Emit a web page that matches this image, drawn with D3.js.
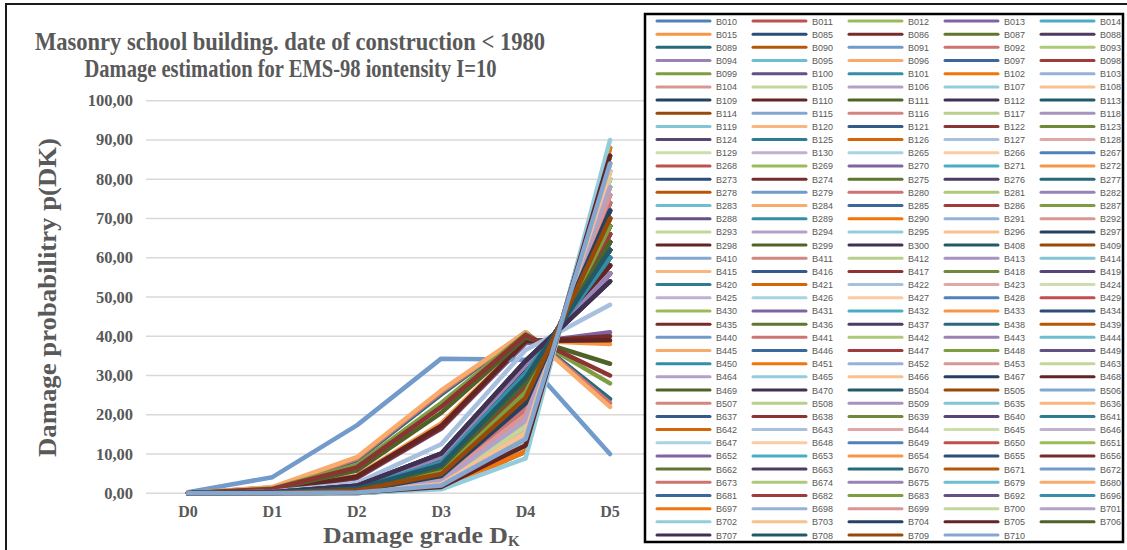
<!DOCTYPE html>
<html><head><meta charset="utf-8">
<script src="https://cdn.jsdelivr.net/npm/d3@7"></script>
<style>html,body{margin:0;padding:0;background:#fff}</style>
</head><body><svg id="c" width="1127" height="550"></svg>
<script>
const grades = ["D0","D1","D2","D3","D4","D5"];
const yTicks = [0,10,20,30,40,50,60,70,80,90,100];
const titleLines = ["Masonry school building. date of construction < 1980","Damage estimation for EMS-98 iontensity I=10"];
const buildings = [
"B010","B011","B012","B013","B014","B015","B085","B086","B087","B088",
"B089","B090","B091","B092","B093","B094","B095","B096","B097","B098",
"B099","B100","B101","B102","B103","B104","B105","B106","B107","B108",
"B109","B110","B111","B112","B113","B114","B115","B116","B117","B118",
"B119","B120","B121","B122","B123","B124","B125","B126","B127","B128",
"B129","B130","B265","B266","B267","B268","B269","B270","B271","B272",
"B273","B274","B275","B276","B277","B278","B279","B280","B281","B282",
"B283","B284","B285","B286","B287","B288","B289","B290","B291","B292",
"B293","B294","B295","B296","B297","B298","B299","B300","B408","B409",
"B410","B411","B412","B413","B414","B415","B416","B417","B418","B419",
"B420","B421","B422","B423","B424","B425","B426","B427","B428","B429",
"B430","B431","B432","B433","B434","B435","B436","B437","B438","B439",
"B440","B441","B442","B443","B444","B445","B446","B447","B448","B449",
"B450","B451","B452","B453","B463","B464","B465","B466","B467","B468",
"B469","B470","B504","B505","B506","B507","B508","B509","B635","B636",
"B637","B638","B639","B640","B641","B642","B643","B644","B645","B646",
"B647","B648","B649","B650","B651","B652","B653","B654","B655","B656",
"B662","B663","B670","B671","B672","B673","B674","B675","B679","B680",
"B681","B682","B683","B692","B696","B697","B698","B699","B700","B701",
"B702","B703","B704","B705","B706","B707","B708","B709","B710"];
// damage probabilities p(DK) per building: D0..D5
const damage = [
[0,0.1,0.6,4.4,22.9,72],[0,0.1,0.9,6.0,27.0,66],[0,0.3,1.9,10.1,33.7,54],[0,0.6,3.8,16.4,38.2,41],[0,0,0.3,2.7,17.0,80],
[0,0.8,4.5,17.8,38.9,38],[0,0.1,0.7,4.9,24.3,70],[0,0.7,4.0,16.6,38.7,40],[0,0.2,1.5,8.6,31.7,58],[0,0.2,1.0,6.6,28.2,64],
[0,1.4,8.4,25.2,41.0,24],[0,0.1,0.8,5.4,25.7,68],[0.3,4.1,17.3,34.3,34.0,10],[0,1.5,8.8,25.7,41.0,23],[0,0,0.4,3.1,18.5,78],
[0,0.1,0.5,3.9,21.5,74],[0,0,0.3,2.3,15.4,82],[0,1.6,9.2,26.2,41.0,22],[0,0.2,1.2,7.2,29.4,62],[0,0.2,1.5,8.6,31.7,58],
[0,1.2,7.2,23.0,40.6,28],[0,0.2,1.3,7.9,30.6,60],[0,0.1,0.4,3.5,20.0,76],[0,0,0.2,1.6,12.2,86],[0,0.3,1.7,9.3,32.7,56],
[0,0,0.2,2.0,13.8,84],[0,0,0.3,2.7,17.0,80],[0,0.1,0.6,4.4,22.9,72],[0,0,0.1,1.3,10.6,88],[0,0,0.4,3.1,18.5,78],
[0,0.1,0.9,6.0,27.0,66],[0,0.7,4.3,17.2,38.8,39],[0,1.0,5.8,20.5,39.7,33],[0,0.2,1.0,6.6,28.2,64],[0,0.2,1.2,7.2,29.4,62],
[0,0.1,0.7,4.9,24.3,70],[0,0,0.3,2.3,15.4,82],[0,0.1,0.5,3.9,21.5,74],[0,0,0.3,2.7,17.0,80],[0,0.1,0.4,3.5,20.0,76],
[0,0,0.2,1.6,12.2,86],[0,0,0.4,3.1,18.5,78],[0,0.1,0.8,5.4,25.7,68],[0,1.1,6.6,22.0,40.3,30],[0,0.2,1.3,7.9,30.6,60],
[0,0.2,1.2,7.2,29.4,62],[0,0.2,1.0,6.6,28.2,64],[0,0.1,0.6,4.4,22.9,72],[0,0.4,2.6,12.5,36.5,48],[0,0,0.2,2.0,13.8,84],
[0,0,0.3,2.7,17.0,80],[0,0.1,0.4,3.5,20.0,76],[0,0,0.3,2.3,15.4,82],[0,0,0.4,3.1,18.5,78],[0,0.1,0.7,4.9,24.3,70],
[0,0.1,0.9,6.0,27.0,66],[0,0.1,0.5,3.9,21.5,74],[0,0.2,1.3,7.9,30.6,60],[0,0,0.2,2.0,13.8,84],[0,0.1,0.6,4.4,22.9,72],
[0,0.2,1.0,6.6,28.2,64],[0,0.2,1.5,8.6,31.7,58],[0,0.2,1.2,7.2,29.4,62],[0,0.3,1.7,9.3,32.7,56],[0,0.1,0.8,5.4,25.7,68],
[0,0.1,0.7,4.9,24.3,70],[0,0,0.3,2.7,17.0,80],[0,0.1,0.4,3.5,20.0,76],[0,0,0.3,2.3,15.4,82],[0,0.1,0.5,3.9,21.5,74],
[0,0,0.2,1.6,12.2,86],[0,0,0.4,3.1,18.5,78],[0,0.1,0.9,6.0,27.0,66],[0,0.2,1.3,7.9,30.6,60],[0,0.2,1.0,6.6,28.2,64],
[0,0.2,1.2,7.2,29.4,62],[0,0.1,0.8,5.4,25.7,68],[0,0,0.2,2.0,13.8,84],[0,0,0.3,2.7,17.0,80],[0,0.1,0.5,3.9,21.5,74],
[0,0,0.3,2.3,15.4,82],[0,0.1,0.4,3.5,20.0,76],[0,0,0.2,1.6,12.2,86],[0,0,0.3,2.7,17.0,80],[0,0.2,1.5,8.6,31.7,58],
[0,0.3,1.7,9.3,32.7,56],[0,0.2,1.3,7.9,30.6,60],[0,0.3,1.9,10.1,33.7,54],[0,0.2,1.2,7.2,29.4,62],[0,0.1,0.7,4.9,24.3,70],
[0,0,0.4,3.1,18.5,78],[0,0.1,0.6,4.4,22.9,72],[0,0,0.2,2.0,13.8,84],[0,0.1,0.5,3.9,21.5,74],[0,0,0.3,2.7,17.0,80],
[0,0.1,0.4,3.5,20.0,76],[0,0.1,0.9,6.0,27.0,66],[0,0.2,1.0,6.6,28.2,64],[0,0.2,1.3,7.9,30.6,60],[0,0.2,1.2,7.2,29.4,62],
[0,0.1,0.8,5.4,25.7,68],[0,0,0.2,1.6,12.2,86],[0,0,0.3,2.3,15.4,82],[0,0,0.4,3.1,18.5,78],[0,0,0.2,2.0,13.8,84],
[0,0.1,0.4,3.5,20.0,76],[0,0,0.1,1.3,10.6,88],[0,0,0.3,2.7,17.0,80],[0,0.1,0.7,4.9,24.3,70],[0,0.1,0.6,4.4,22.9,72],
[0,0.1,0.5,3.9,21.5,74],[0,0.1,0.9,6.0,27.0,66],[0,0.2,1.0,6.6,28.2,64],[0,0,0.3,2.3,15.4,82],[0,0.2,1.3,7.9,30.6,60],
[0,0.2,1.5,8.6,31.7,58],[0,0.2,1.2,7.2,29.4,62],[0,0.3,1.7,9.3,32.7,56],[0,0.1,0.8,5.4,25.7,68],[0,0.1,0.7,4.9,24.3,70],
[0,0,0.4,3.1,18.5,78],[0,0.1,0.5,3.9,21.5,74],[0,0,0.2,2.0,13.8,84],[0,0.1,0.4,3.5,20.0,76],[0,0,0.2,1.6,12.2,86],
[0,0,0.3,2.7,17.0,80],[0,0.1,0.6,4.4,22.9,72],[0,0.2,1.0,6.6,28.2,64],[0,0.1,0.9,6.0,27.0,66],[0,0.2,1.2,7.2,29.4,62],
[0,0.2,1.3,7.9,30.6,60],[0,0,0.1,1.3,10.6,88],[0,0,0.3,2.3,15.4,82],[0,0.1,0.4,3.5,20.0,76],[0,0,0.2,2.0,13.8,84],
[0,0,0.4,3.1,18.5,78],[0,0,0.2,1.6,12.2,86],[0,0,0.3,2.7,17.0,80],[0,0.1,0.8,5.4,25.7,68],[0,0.2,1.5,8.6,31.7,58],
[0,0.2,1.2,7.2,29.4,62],[0,0.3,1.7,9.3,32.7,56],[0,0.2,1.0,6.6,28.2,64],[0,0.1,0.7,4.9,24.3,70],[0,0,0.3,2.3,15.4,82],
[0,0.1,0.5,3.9,21.5,74],[0,0,0.2,2.0,13.8,84],[0,0.1,0.4,3.5,20.0,76],[0,0,0.1,1.3,10.6,88],[0,0,0.3,2.7,17.0,80],
[0,0.1,0.6,4.4,22.9,72],[0,0.1,0.9,6.0,27.0,66],[0,0.1,0.8,5.4,25.7,68],[0,0.2,1.3,7.9,30.6,60],[0,0.2,1.0,6.6,28.2,64],
[0,0,0.2,1.6,12.2,86],[0,0,0.3,2.3,15.4,82],[0,0,0.4,3.1,18.5,78],[0,0,0.2,2.0,13.8,84],[0,0.3,1.7,9.3,32.7,56],
[0,0,0.3,2.7,17.0,80],[0,0,0.3,2.3,15.4,82],[0,0.1,0.6,4.4,22.9,72],[0,0.1,0.7,4.9,24.3,70],[0,0,0.4,3.1,18.5,78],
[0,0.2,1.2,7.2,29.4,62],[0,0,0.1,1.3,10.6,88],[0,0,0.2,1.6,12.2,86],[0,0.1,0.5,3.9,21.5,74],[0,0.1,0.8,5.4,25.7,68],
[0,0.2,1.0,6.6,28.2,64],[0,0.3,1.9,10.1,33.7,54],[0,0.2,1.3,7.9,30.6,60],[0,0.1,0.7,4.9,24.3,70],[0,0,0.3,2.7,17.0,80],
[0,0.1,0.5,3.9,21.5,74],[0,0,0.3,2.3,15.4,82],[0,0.3,1.7,9.3,32.7,56],[0,0,0.2,1.6,12.2,86],[0,0,0.4,3.1,18.5,78],
[0,0.1,0.6,4.4,22.9,72],[0,0.1,0.9,6.0,27.0,66],[0,0.1,0.8,5.4,25.7,68],[0,0.2,1.2,7.2,29.4,62],[0,0.2,1.3,7.9,30.6,60],
[0,0,0.1,1.3,10.6,88],[0,0,0.2,2.0,13.8,84],[0,0.1,0.4,3.5,20.0,76],[0,0,0.3,2.7,17.0,80],[0,0,0.4,3.1,18.5,78],
[0,0,0.1,1.0,8.9,90],[0,0,0.3,2.3,15.4,82],[0,0.1,0.6,4.4,22.9,72],[0,0,0.2,1.6,12.2,86],[0,0.2,1.0,6.6,28.2,64],
[0,0.3,1.9,10.1,33.7,54],[0,0.2,1.2,7.2,29.4,62],[0,0.1,0.7,4.9,24.3,70],[0,0,0.2,2.0,13.8,84]];

// Office theme accents and Excel's series colour variations (luminance mod, offset)
const accents = ["#4F81BD","#C0504D","#9BBB59","#8064A2","#4BACC6","#F79646"];
const lumVariants = [[1,0],[0.6,0],[0.8,0.2],[0.8,0],[0.6,0.4],[0.5,0],[0.7,0.3],[0.7,0],[0.5,0.5]];
function seriesColor(i){
  const h = d3.hsl(accents[i % 6]);
  const v = lumVariants[Math.floor(i / 6) % lumVariants.length];
  h.l = h.l * v[0] + v[1];
  return h.formatHex();
}

const svg = d3.select("#c");
const serif = "'Liberation Serif','Times New Roman',serif";
const grey = "#595959";
svg.append("rect").attr("width",1127).attr("height",550).attr("fill","#fff");
// chart outer border
svg.append("rect").attr("x",6).attr("y",4).attr("width",1140).attr("height",560)
  .attr("fill","none").attr("stroke","#1a1a1a").attr("stroke-width",2);

const x = d3.scalePoint().domain(grades).range([188, 610]);
const y = d3.scaleLinear().domain([0,100]).range([493.3, 100.7]);

// gridlines
svg.append("g").selectAll("line").data(yTicks).join("line")
  .attr("x1",146).attr("x2",652).attr("y1",d=>y(d)).attr("y2",d=>y(d))
  .attr("stroke","#d9d9d9").attr("stroke-width",1.5);

// y tick labels
const fmt = d => d3.format(".2f")(d).replace(".", ",");
svg.append("g").selectAll("text").data(yTicks).join("text")
  .attr("x",133).attr("y",d=>y(d)+5.5).attr("text-anchor","end")
  .attr("font-family",serif).attr("font-weight","bold").attr("font-size",16.5).attr("fill",grey)
  .text(fmt);

// category labels
svg.append("g").selectAll("text").data(grades).join("text")
  .attr("x",d=>x(d)).attr("y",517).attr("text-anchor","middle")
  .attr("font-family",serif).attr("font-weight","bold").attr("font-size",16).attr("fill",grey)
  .text(d=>d);

// series lines
const line = d3.line().x((d,i)=>x(grades[i])).y(d=>y(d));
svg.append("g").selectAll("path").data(damage).join("path")
  .attr("d",line).attr("fill","none")
  .attr("stroke",(d,i)=>seriesColor(i)).attr("stroke-width",4.5)
  .attr("stroke-linejoin","round").attr("stroke-linecap","round");

// titles
svg.append("text").attr("x",290).attr("y",50).attr("text-anchor","middle")
  .attr("font-family",serif).attr("font-weight","bold").attr("font-size",26).attr("fill",grey)
  .attr("textLength",510).attr("lengthAdjust","spacingAndGlyphs").text(titleLines[0]);
svg.append("text").attr("x",290.5).attr("y",77).attr("text-anchor","middle")
  .attr("font-family",serif).attr("font-weight","bold").attr("font-size",26).attr("fill",grey)
  .attr("textLength",412).attr("lengthAdjust","spacingAndGlyphs").text(titleLines[1]);

// y axis title
svg.append("text").attr("transform","translate(56,297.5) rotate(-90)").attr("text-anchor","middle")
  .attr("font-family",serif).attr("font-weight","bold").attr("font-size",26).attr("fill",grey)
  .attr("textLength",319).attr("lengthAdjust","spacingAndGlyphs").text("Damage probabilitry p(DK)");

// x axis title
const xt = svg.append("text").attr("x",323).attr("y",543)
  .attr("font-family",serif).attr("font-weight","bold").attr("font-size",24).attr("fill",grey);
xt.append("tspan").attr("textLength",185).attr("lengthAdjust","spacingAndGlyphs").text("Damage grade D");
xt.append("tspan").attr("font-size",15).attr("dy",3).text("K");

// legend
const lg = svg.append("g");
lg.append("rect").attr("x",645).attr("y",14).attr("width",478).attr("height",528)
  .attr("fill","#fff").attr("stroke","#000").attr("stroke-width",2.5);
const colX = [657,753,849,945,1041];
const rowY0 = 21, rowH = 13.18;
const items = lg.selectAll("g.it").data(buildings).join("g").attr("class","it")
  .attr("transform",(d,i)=>`translate(${colX[i%5]},${rowY0 + Math.floor(i/5)*rowH})`);
items.append("line").attr("x1",0).attr("x2",53).attr("y1",0).attr("y2",0)
  .attr("stroke",(d,i)=>seriesColor(i)).attr("stroke-width",3).attr("stroke-linecap","round");
items.append("text").attr("x",59).attr("y",3.5)
  .attr("font-family","'Liberation Sans',Arial,sans-serif").attr("font-size",9.4).attr("fill",grey)
  .attr("textLength",21).attr("lengthAdjust","spacingAndGlyphs")
  .text(d=>d);
</script></body></html>
